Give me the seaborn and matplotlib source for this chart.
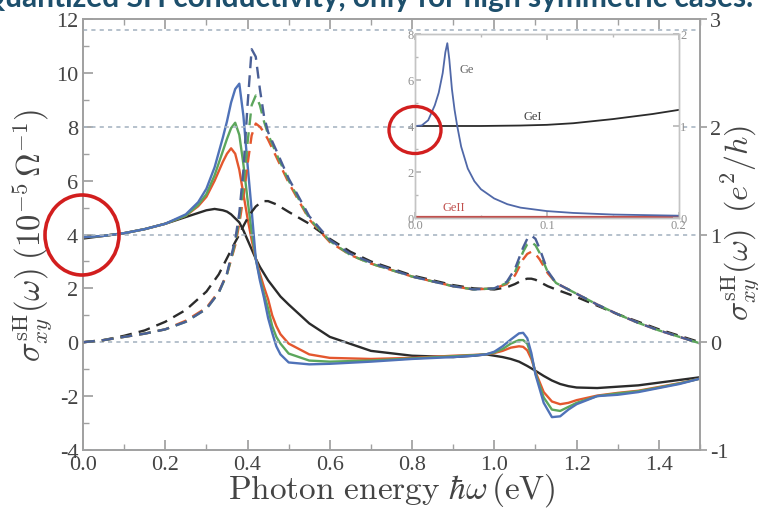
import matplotlib
matplotlib.use("Agg")
import matplotlib.pyplot as plt
import seaborn as sns
from matplotlib.patches import Ellipse
from matplotlib.ticker import MultipleLocator

# ---- data ----
# solid curves, left axis (10^-5 Ohm^-1)
x_solid = [0.00, 0.05, 0.10, 0.15, 0.20, 0.25, 0.28, 0.30, 0.32, 0.34, 0.35,
           0.36, 0.37, 0.38, 0.39, 0.40, 0.41, 0.42, 0.43, 0.44, 0.45, 0.46,
           0.47, 0.48, 0.50, 0.55, 0.60, 0.70, 0.80, 0.90, 0.95, 0.98, 1.00,
           1.02, 1.04, 1.06, 1.07, 1.08, 1.09, 1.10, 1.12, 1.14, 1.16, 1.18,
           1.20, 1.25, 1.30, 1.35, 1.40, 1.45, 1.50]
blue_solid = [3.9, 3.95, 4.05, 4.2, 4.4, 4.75, 5.2, 5.7, 6.5, 7.6, 8.2,
              8.9, 9.4, 9.6, 8.4, 6.6, 4.9, 3.1, 2.3, 1.65, 0.9, 0.35,
              -0.15, -0.45, -0.75, -0.82, -0.8, -0.72, -0.62, -0.55, -0.5, -0.45, -0.35,
              -0.15, 0.1, 0.33, 0.35, 0.15, -0.4, -1.2, -2.25, -2.78, -2.75, -2.5,
              -2.3, -2.0, -1.95, -1.85, -1.7, -1.55, -1.35]
green_solid = [3.9, 3.95, 4.05, 4.2, 4.4, 4.7, 5.1, 5.5, 6.2, 7.1, 7.55,
               7.95, 8.15, 7.7, 6.6, 5.3, 4.1, 3.1, 2.4, 1.8, 1.25, 0.6,
               0.2, -0.05, -0.42, -0.68, -0.72, -0.68, -0.6, -0.52, -0.48, -0.45, -0.38,
               -0.25, -0.05, 0.08, 0.08, -0.05, -0.5, -1.15, -2.05, -2.5, -2.55, -2.4,
               -2.25, -2.0, -1.9, -1.82, -1.68, -1.53, -1.35]
red_solid = [3.9, 3.95, 4.05, 4.2, 4.4, 4.7, 5.05, 5.4, 6.0, 6.7, 7.0,
             7.2, 7.0, 6.4, 5.5, 4.6, 3.8, 3.1, 2.55, 2.05, 1.6, 1.0,
             0.6, 0.3, -0.05, -0.45, -0.58, -0.62, -0.58, -0.5, -0.47, -0.45, -0.4,
             -0.32, -0.2, -0.15, -0.17, -0.3, -0.62, -1.1, -1.85, -2.2, -2.3, -2.25,
             -2.15, -1.98, -1.88, -1.8, -1.66, -1.52, -1.35]
black_solid = [3.85, 3.95, 4.05, 4.2, 4.4, 4.65, 4.8, 4.9, 4.95, 4.9, 4.85,
               4.75, 4.6, 4.45, 4.15, 3.8, 3.45, 3.1, 2.8, 2.55, 2.3, 2.1,
               1.9, 1.7, 1.4, 0.7, 0.2, -0.32, -0.5, -0.55, -0.5, -0.45, -0.5,
               -0.55, -0.62, -0.72, -0.8, -0.88, -0.97, -1.06, -1.25, -1.42, -1.55, -1.63,
               -1.68, -1.7, -1.65, -1.6, -1.5, -1.4, -1.3]

# dashed curves, right axis (e^2/h)
x_dash = [0.00, 0.05, 0.10, 0.15, 0.20, 0.25, 0.30, 0.33, 0.35, 0.37, 0.38,
          0.39, 0.40, 0.41, 0.42, 0.43, 0.44, 0.45, 0.47, 0.50, 0.55, 0.60,
          0.65, 0.70, 0.80, 0.90, 0.95, 1.00, 1.03, 1.05, 1.07, 1.08, 1.09,
          1.10, 1.11, 1.13, 1.15, 1.20, 1.25, 1.30, 1.35, 1.40, 1.45, 1.50]
blue_dash = [0.0, 0.02, 0.05, 0.08, 0.12, 0.19, 0.31, 0.46, 0.64, 0.95, 1.2,
             1.6, 2.2, 2.72, 2.65, 2.35, 2.1, 1.95, 1.78, 1.52, 1.17, 0.95,
             0.82, 0.74, 0.61, 0.52, 0.49, 0.5, 0.56, 0.68, 0.88, 0.96, 0.99,
             0.96, 0.87, 0.66, 0.55, 0.45, 0.35, 0.26, 0.18, 0.11, 0.05, -0.01]
green_dash = [0.0, 0.02, 0.05, 0.08, 0.12, 0.19, 0.31, 0.46, 0.63, 0.92, 1.15,
              1.45, 1.85, 2.2, 2.29, 2.2, 2.05, 1.93, 1.75, 1.5, 1.15, 0.94,
              0.81, 0.73, 0.61, 0.52, 0.49, 0.5, 0.55, 0.65, 0.84, 0.91, 0.93,
              0.9, 0.83, 0.65, 0.55, 0.45, 0.35, 0.26, 0.18, 0.11, 0.05, -0.01]
red_dash = [0.0, 0.02, 0.05, 0.08, 0.12, 0.2, 0.32, 0.47, 0.63, 0.9, 1.1,
            1.35, 1.65, 1.92, 2.03, 2.0, 1.95, 1.88, 1.72, 1.48, 1.14, 0.93,
            0.81, 0.73, 0.61, 0.52, 0.49, 0.5, 0.54, 0.62, 0.77, 0.82, 0.84,
            0.82, 0.77, 0.64, 0.55, 0.45, 0.35, 0.26, 0.18, 0.11, 0.05, -0.01]
black_dash = [0.0, 0.02, 0.06, 0.11, 0.19, 0.3, 0.47, 0.63, 0.78, 0.93, 1.0,
              1.08, 1.15, 1.21, 1.26, 1.29, 1.31, 1.31, 1.28, 1.21, 1.1, 0.96,
              0.84, 0.75, 0.62, 0.53, 0.5, 0.49, 0.51, 0.54, 0.58, 0.59, 0.59,
              0.58, 0.56, 0.52, 0.49, 0.42, 0.34, 0.26, 0.19, 0.12, 0.06, 0.0]

# inset
x_ge = [0.0, 0.005, 0.01, 0.015, 0.018, 0.021, 0.023, 0.0245, 0.026, 0.028, 0.03, 0.032,
        0.035, 0.04, 0.045, 0.05, 0.06, 0.07, 0.08, 0.1, 0.12, 0.15, 0.2]
y_ge = [4.0, 4.02, 4.25, 4.9, 5.45, 6.3, 7.2, 7.6, 6.9, 5.6, 4.7, 4.0,
        3.1, 2.15, 1.6, 1.25, 0.85, 0.6, 0.45, 0.3, 0.22, 0.15, 0.1]
x_gei = [0.0, 0.05, 0.08, 0.1, 0.12, 0.15, 0.18, 0.2]
y_gei = [4.0, 4.0, 4.02, 4.05, 4.12, 4.3, 4.52, 4.7]
x_geii = [0.0, 0.1, 0.2]
y_geii = [0.05, 0.05, 0.05]

quant_levels = [-1, 0, 1, 2, 2.9]

c_blue, c_green, c_red, c_black = "#4f72b8", "#5ca65c", "#e4572e", "#2b2b2b"
c_axis = "#a0a0a0"
c_text = "#444444"

sns.set_theme(style="ticks")
plt.rcParams["font.family"] = ["Liberation Serif", "DejaVu Serif"]
plt.rcParams["mathtext.fontset"] = "cm"
plt.rcParams["axes.unicode_minus"] = False

fig = plt.figure(figsize=(7.58, 5.10), dpi=100)
ax = fig.add_axes([0.1095, 0.1157, 0.814, 0.845])
ax2 = ax.twinx()

# quantized levels (dotted)
for lv in quant_levels:
    ax2.axhline(lv, color="#a9b6c4", lw=1.2, ls=(0, (2.5, 2.5)), zorder=1)

for ys, c in [(black_solid, c_black), (red_solid, c_red), (green_solid, c_green), (blue_solid, c_blue)]:
    sns.lineplot(x=x_solid, y=ys, ax=ax, color=c, lw=1.7, sort=False, estimator=None)
for ys, c in [(black_dash, c_black), (red_dash, c_red), (green_dash, c_green), (blue_dash, "#4a5f96")]:
    sns.lineplot(x=x_dash, y=ys, ax=ax2, color=c, lw=1.7, linestyle=(0, (5, 3)),
                 sort=False, estimator=None)

ax.set_xlim(0, 1.5)
ax.set_ylim(-4, 12)
ax2.set_ylim(-1, 3)
ax.xaxis.set_minor_locator(MultipleLocator(0.1))
ax.yaxis.set_major_locator(MultipleLocator(2))
ax.yaxis.set_minor_locator(MultipleLocator(1))
ax2.yaxis.set_major_locator(MultipleLocator(1))
ax.set_xticks([0, 0.2, 0.4, 0.6, 0.8, 1.0, 1.2, 1.4])
ax.set_xticklabels(["0.0", "0.2", "0.4", "0.6", "0.8", "1.0", "1.2", "1.4"])
ax.tick_params(axis="both", which="both", direction="in", top=True, labelsize=16,
               colors=c_axis, labelcolor=c_text)
ax.tick_params(which="major", length=7)
ax.tick_params(which="minor", length=4)
ax2.tick_params(axis="y", direction="out", length=5, pad=2, labelsize=16, colors=c_axis, labelcolor=c_text)
for a in (ax, ax2):
    for s in a.spines.values():
        s.set_color(c_axis)
        s.set_linewidth(1.2)

ax.set_xlabel(r"$\mathrm{Photon\ energy}\ \hbar\omega\,(\mathrm{eV})$", fontsize=24, color=c_text)
ax.xaxis.set_label_coords(0.5, -0.047)
ax.set_ylabel(r"$\sigma_{xy}^{\mathrm{sH}}(\omega)\;(10^{-5}\,\Omega^{-1})$", fontsize=23.5, color=c_text)
ax.yaxis.set_label_coords(-0.045, 0.5)
ax2.set_ylabel(r"$\sigma_{xy}^{\mathrm{sH}}(\omega)\;\;(e^2/h)$", fontsize=23, color=c_text)
ax2.yaxis.set_label_coords(1.032, 0.53)

# inset
axi = fig.add_axes([0.5475, 0.5706, 0.348, 0.3608])
axi.set_facecolor("white")
sns.lineplot(x=x_geii, y=y_geii, ax=axi, color="#c0504d", lw=1.6, sort=False, estimator=None)
sns.lineplot(x=x_gei, y=y_gei, ax=axi, color=c_black, lw=1.3, sort=False, estimator=None)
sns.lineplot(x=x_ge, y=y_ge, ax=axi, color="#5068a8", lw=1.3, sort=False, estimator=None)
axi.set_xlim(0, 0.2)
axi.set_ylim(0, 8)
axi.set_xticks([0.0, 0.1, 0.2])
axi.set_xticklabels(["0.0", "0.1", "0.2"])
axi.xaxis.set_minor_locator(MultipleLocator(0.05))
axi.yaxis.set_major_locator(MultipleLocator(2))
axi.yaxis.set_minor_locator(MultipleLocator(1))
axi.tick_params(which="both", direction="in", labelsize=9, colors="#b8b8b8",
                labelcolor="#909090", pad=1, top=True)
axi.tick_params(which="major", length=4)
axi.tick_params(which="minor", length=2)
axi2 = axi.twinx()
axi2.set_ylim(0, 2)
axi2.set_yticks([0, 1, 2])
axi2.tick_params(direction="in", length=4, labelsize=9, colors="#b8b8b8", labelcolor="#909090", pad=1)
for a in (axi, axi2):
    for s in a.spines.values():
        s.set_color("#c4c4c4")
        s.set_linewidth(1.0)
axi.text(0.034, 6.35, "Ge", fontsize=9, color="#666666")
axi.text(0.082, 4.3, "GeI", fontsize=9, color="#444444")
axi.text(0.021, 0.35, "GeII", fontsize=9, color="#c0504d")

# red highlight circles
fig.add_artist(Ellipse((82 / 758, 1 - 236 / 510), 74 / 758, 80 / 510, transform=fig.transFigure,
                       fill=False, ec="#d21e1e", lw=2.6, zorder=10))
fig.add_artist(Ellipse((415 / 758, 1 - 131 / 510), 52 / 758, 47 / 510, transform=fig.transFigure,
                       fill=False, ec="#d21e1e", lw=2.4, zorder=10))

fig.text(0.993, 1 - 6.5 / 510, "Quantized SH conductivity, only for high symmetric cases.",
         ha="right", va="baseline", color="#1d4f6c", fontsize=21.5, fontweight="bold",
         family=["Lato", "DejaVu Sans"])

fig.savefig("out.png", dpi=100, facecolor="white")
